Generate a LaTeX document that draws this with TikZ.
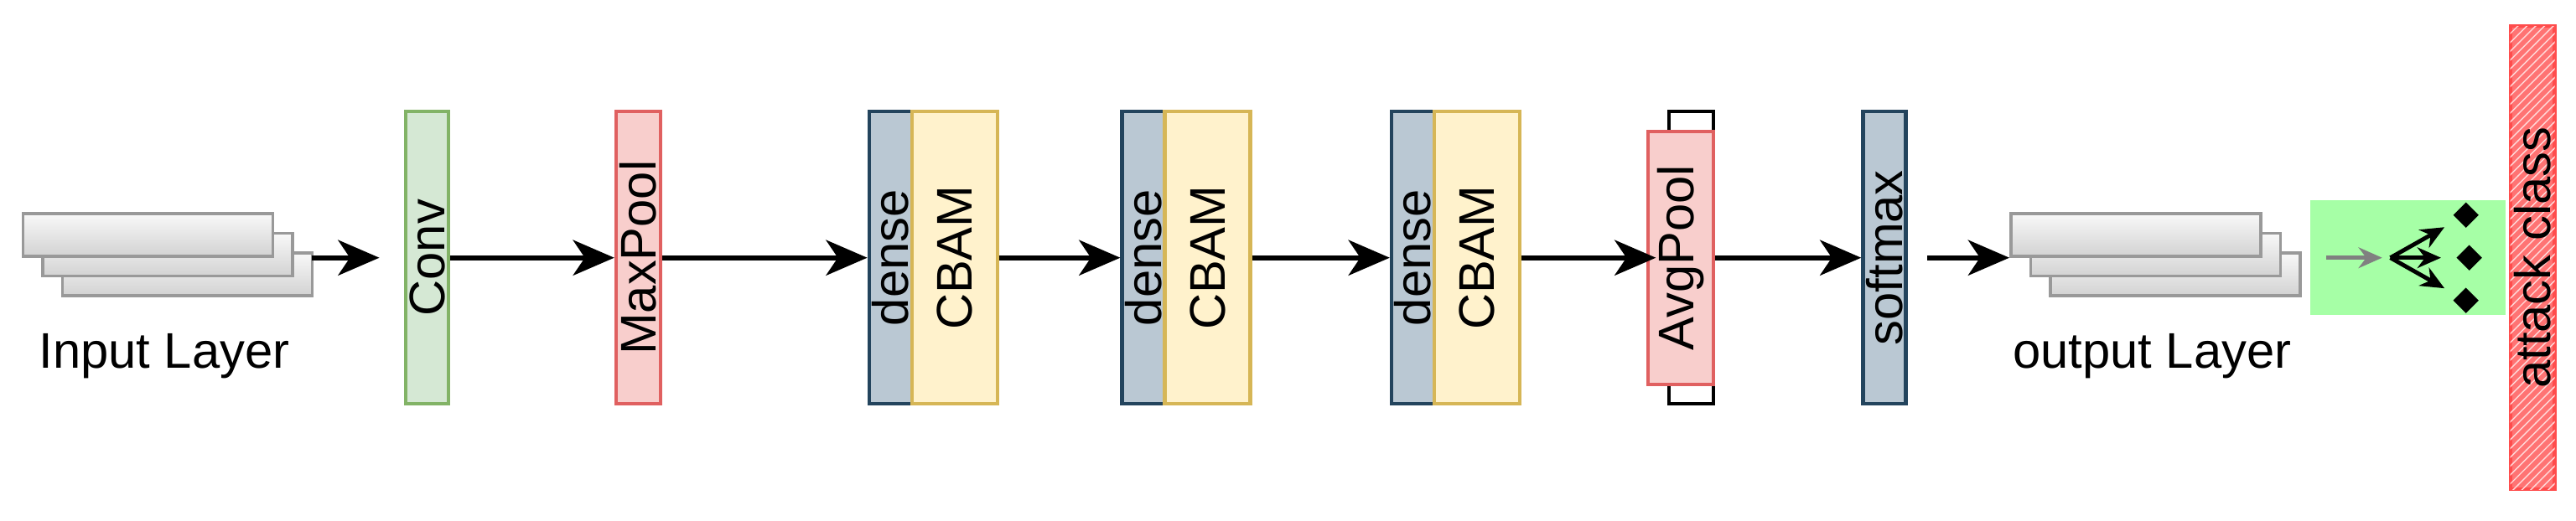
\documentclass[tikz,border=0pt]{standalone}
\usepackage{fontspec}
\setmainfont{Liberation Sans}
\usetikzlibrary{arrows.meta,patterns,shapes.geometric}
\definecolor{dfill}{HTML}{BAC8D3}
\definecolor{dline}{HTML}{23445D}
\definecolor{yfill}{HTML}{FFF2CC}
\definecolor{yline}{HTML}{D6B656}
\definecolor{gfill}{HTML}{D5E8D4}
\definecolor{gline}{HTML}{82B366}
\definecolor{rfill}{HTML}{F8CECC}
\definecolor{rline}{HTML}{E06060}
\begin{document}
\def\u{0.0196cm}
\begin{tikzpicture}[x=\u,y=-\u,
  every node/.style={font=\fontsize{17}{20}\selectfont},
  lay/.style={draw, line width=1.2pt, inner sep=0pt, rotate=90, minimum width=178*\u},
  conv/.style={lay, fill=gfill, draw=gline, minimum height=26*\u},
  pool/.style={lay, fill=rfill, draw=rline},
  dense/.style={lay, fill=dfill, draw=dline, minimum height=26*\u},
  cbam/.style={lay, fill=yfill, draw=yline, minimum height=52*\u},
  stack/.style={draw=gray!80, line width=1pt, top color=gray!5, bottom color=gray!35, minimum width=152*\u, minimum height=26*\u, inner sep=0pt},
  arr/.style={line width=1.8pt, -{Stealth[length=14pt,width=12pt,inset=4pt]}},
  dia/.style={diamond, fill=black, inner sep=2.2pt},
]
\useasboundingbox (0,0) rectangle (1568,317);
% input stack
\node[stack] (in3) at (114,167) {};
\node[stack] (in2) at (102,155) {};
\node[stack] (in1) at (90,143) {};
\node (inlab) at (100,217) {Input Layer};
% layers
\node[conv] (conv) at (260,157) {Conv};
\node[pool, minimum height=27*\u] (maxpool) at (388.5,157) {MaxPool};
\node[dense] (d1) at (542,157) {dense};
\node[cbam] (c1) at (581,157) {CBAM};
\node[dense] (d2) at (696,157) {dense};
\node[cbam] (c2) at (735,157) {CBAM};
\node[dense] (d3) at (860,157) {dense};
\node[cbam] (c3) at (899,157) {CBAM};
\node[lay, draw=black, fill=white, minimum height=27*\u] (avgbr) at (1029.5,157) {};
\node[pool, minimum width=154*\u, minimum height=40*\u] (avg) at (1023,157) {AvgPool};
\node[dense] (soft) at (1147,157) {softmax};
% output stack
\node[stack] (out3) at (1324,167) {};
\node[stack] (out2) at (1312,155) {};
\node[stack] (out1) at (1300,143) {};
\node (outlab) at (1310,217) {output Layer};
% green box
\node[fill=green!35, minimum width=119*\u, minimum height=70*\u, inner sep=0pt] (g) at (1465.5,157) {};
\coordinate (ga) at (1416,157);
\coordinate (gb) at (1450,157);
\coordinate (fs) at (1455,157);
\node[dia] (k1) at (1501,131) {};
\node[dia] (k2) at (1503,157) {};
\node[dia] (k3) at (1501,183) {};
\draw[gray, line width=1.4pt, -{Stealth[length=8pt,width=7pt]}] (ga) -- (gb);
\foreach \k in {k1,k2,k3}
  \draw[line width=1.4pt, -{Stealth[length=8pt,width=7pt]}, shorten >=5pt] (fs) -- (\k);
% attack class
\node[lay, minimum width=282*\u, minimum height=27*\u, fill=red!55, draw=red!70,
  postaction={pattern=north east lines, pattern color=white!85!red}] (att) at (1541.5,157) {attack class};
% arrows
\coordinate (s0) at (190,157);
\draw[arr, shorten >=15*\u] (s0) -- (conv);
\draw[arr] (conv) -- (maxpool);
\draw[arr] (maxpool) -- (d1);
\draw[arr] (c1) -- (d2);
\draw[arr] (c2) -- (d3);
\draw[arr, shorten >=-6*\u] (c3) -- (avg);
\draw[arr] (avg) -- (soft);
\draw[arr, shorten <=12*\u] (soft) -- (out1.west |- soft);
\end{tikzpicture}
\end{document}
